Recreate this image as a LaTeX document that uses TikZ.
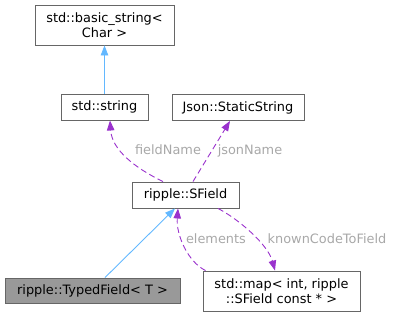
\documentclass[tikz,border=0pt]{standalone}
\usepackage{fontspec}
\setmainfont{DejaVu Sans}
\usepackage{tikz}
\usetikzlibrary{positioning,calc,arrows.meta}
\definecolor{DocBlue}{HTML}{63B8FF}
\definecolor{DocPurple}{HTML}{9A32CD}
\definecolor{DocBorder}{HTML}{666666}
\definecolor{DocFill}{HTML}{999999}
\definecolor{DocLabel}{HTML}{A8A8A8}

\begin{document}
\begin{tikzpicture}[x=1pt, y=-1pt,
    classbox/.style={draw=DocBorder, line width=0.9pt, fill=white, align=center,
      inner sep=0pt, font=\fontsize{12.9}{15.5}\selectfont},
    inherit/.style={DocBlue, line width=0.9pt, -{Triangle[length=10pt, width=7.5pt]}},
    usage/.style={DocPurple, line width=0.9pt, dash pattern=on 6pt off 3.5pt,
      -{Triangle[length=10pt, width=7.5pt]}},
    edgelabel/.style={text=DocLabel, inner sep=0pt, font=\fontsize{12.9}{15.5}\selectfont}]
  \useasboundingbox (0,0) rectangle (394,316);

  %% Classes
  \node[classbox, minimum width=139pt, minimum height=40pt] (bstr) at (104.5,25) {std::basic\_string<\\Char >};
  \node[classbox, minimum width=87pt, minimum height=26pt] (str) at (104.5,107) {std::string};
  \node[classbox, minimum width=132pt, minimum height=26pt] (json) at (238,107.5) {Json::StaticString};
  \node[classbox, minimum width=107pt, minimum height=26pt] (sfield) at (185.5,195) {ripple::SField};
  \node[classbox, fill=DocFill, minimum width=175pt, minimum height=25pt] (typed) at (92.5,290.5) {ripple::TypedField< T >};
  \node[classbox, minimum width=157pt, minimum height=40pt] (smap) at (281.5,291) {std::map< int, ripple\\::SField const * >};

  %% Inheritance
  \draw[inherit] (str.north) -- (bstr.south);
  \draw[inherit] ($(typed.north)+(12.5,0)$) -- ($(sfield.south)+(-10.5,0)$);

  %% Members
  \draw[usage] ($(sfield.north)+(-22.5,0)$) .. controls (135,168) and (112,150) .. ($(str.south)+(5.5,0)$);
  \draw[usage] ($(sfield.north)+(7.5,0)$) -- ($(json.south)+(-8,0)$);
  \draw[usage] ($(sfield.south)+(32.5,0)$) .. controls (240,220) and (268,245) .. ($(smap.north)+(-6.5,0)$);
  \draw[usage] ($(smap.north west)+(3,0)$) .. controls (188,262) and (176,235) .. ($(sfield.south)+(-7.5,0)$);

  %% Member names
  \node[edgelabel] (lfield) at (168,150) {fieldName};
  \node[edgelabel] (ljson) at (250,151) {jsonName};
  \node[edgelabel] (lelem) at (216,238.5) {elements};
  \node[edgelabel] (lknown) at (327,238.5) {knownCodeToField};
\end{tikzpicture}
\end{document}
